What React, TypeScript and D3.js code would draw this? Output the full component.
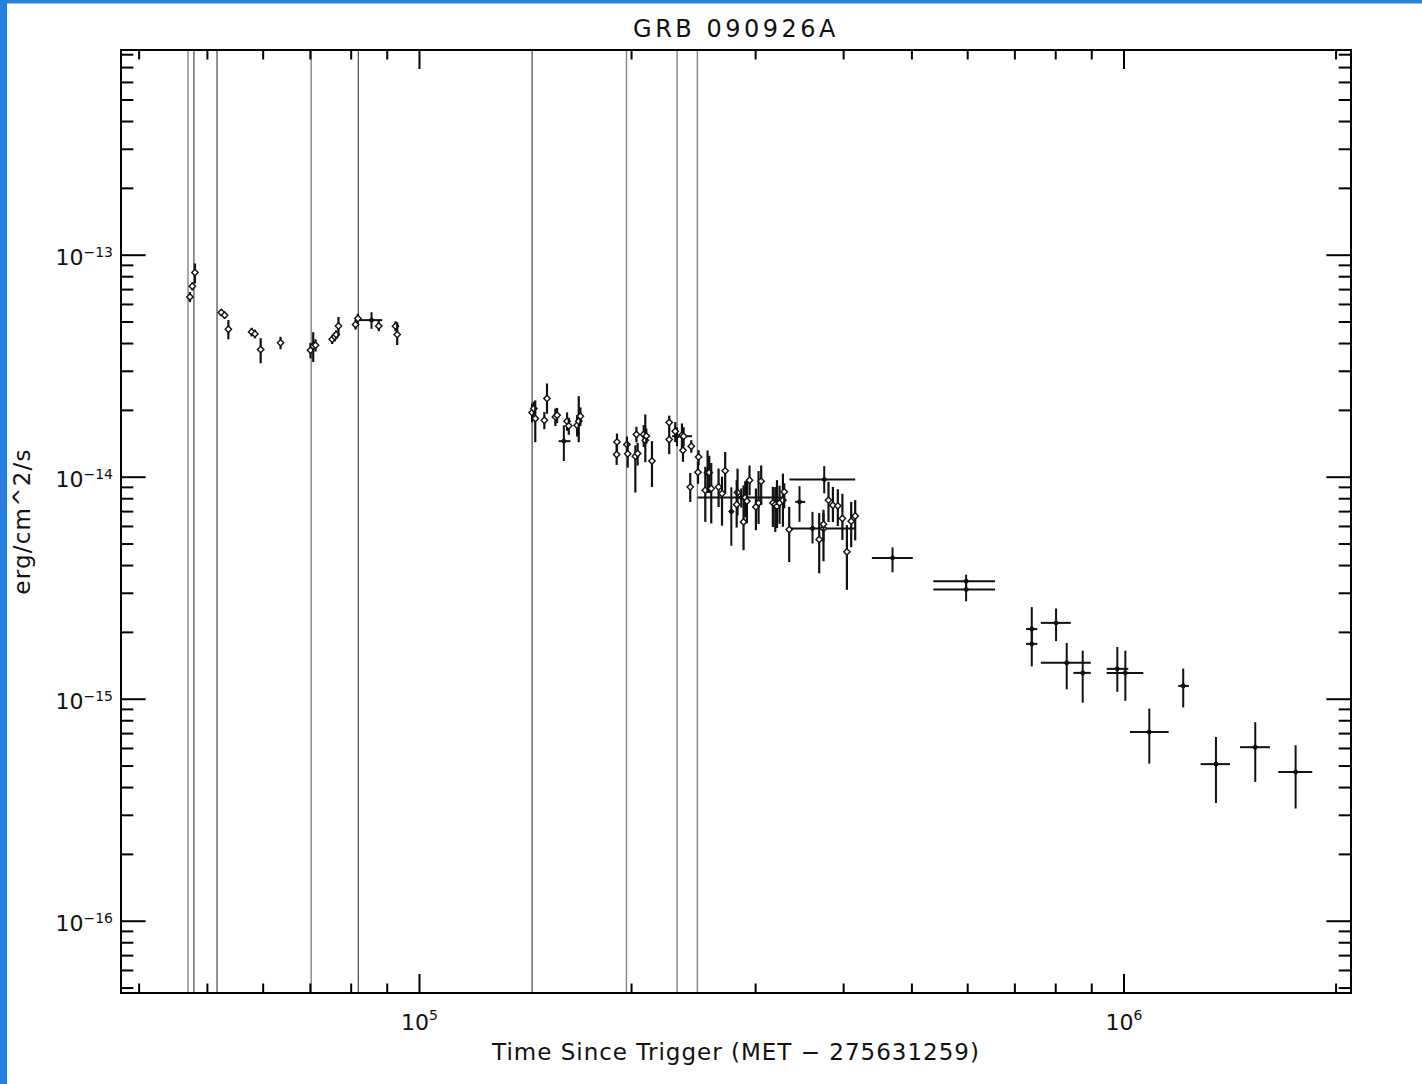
import React from 'react';
import * as d3 from 'd3';

const WIDTH = 1422;
const HEIGHT = 1084;

// Flux values below are in units of 1e-14 erg/cm^2/s
const FLUX_UNIT = 1e-14;

const titleText = 'GRB 090926A';
const xTitleText = 'Time Since Trigger (MET \u2212 275631259)';
const yTitleText = 'erg/cm^2/s';

const timeDomain = [37700, 2.1e6];
const fluxDomain = [4.75e-17, 8.4e-13];

const xTickExponents = [5, 6];
const yTickExponents = [-13, -14, -15, -16];

// Window / orbit boundary markers (seconds since trigger)
const darkLineTimes = [47850, 51600, 81870, 144500];
const grayLineTimes = [46930, 70200, 196700, 232100, 248000];

// Open-diamond points: [time, flux, fluxErrMinus, fluxErrPlus]
const openPoints: number[][] = [
  [47230, 6.49, 0.34, 0.34],
  [47600, 7.25, 0.31, 0.31],
  [48010, 8.36, 0.9, 0.82],
  [52330, 5.52, 0.2, 0.2],
  [52900, 5.37, 0.2, 0.2],
  [53550, 4.64, 0.46, 0.46],
  [57780, 4.51, 0.2, 0.2],
  [58410, 4.42, 0.2, 0.2],
  [59510, 3.76, 0.5, 0.47],
  [63500, 4.03, 0.26, 0.26],
  [70040, 3.73, 0.3, 0.3],
  [70660, 3.9, 0.6, 0.6],
  [71200, 3.93, 0.25, 0.25],
  [75180, 4.18, 0.2, 0.2],
  [75830, 4.29, 0.2, 0.2],
  [76160, 4.39, 0.2, 0.2],
  [76740, 4.8, 0.47, 0.47],
  [81150, 4.87, 0.25, 0.25],
  [81770, 5.19, 0.25, 0.25],
  [87540, 4.8, 0.25, 0.25],
  [92470, 4.79, 0.25, 0.25],
  [92980, 4.39, 0.45, 0.6],

  [144500, 1.956, 0.19, 0.19],
  [145300, 2.04, 0.15, 0.15],
  [146000, 1.838, 0.4, 0.38],
  [150400, 1.806, 0.16, 0.16],
  [151700, 2.262, 0.33, 0.38],
  [155900, 1.869, 0.17, 0.17],
  [156800, 1.902, 0.15, 0.15],
  [162000, 1.788, 0.17, 0.17],
  [162900, 1.703, 0.15, 0.15],
  [167400, 1.715, 0.19, 0.19],
  [168300, 1.788, 0.35, 0.53],
  [169200, 1.883, 0.18, 0.18],
  [190700, 1.442, 0.13, 0.13],
  [190500, 1.266, 0.13, 0.13],
  [197000, 1.404, 0.12, 0.12],
  [197500, 1.274, 0.17, 0.17],
  [202500, 1.243, 0.39, 0.15],
  [203200, 1.557, 0.12, 0.13],
  [204000, 1.279, 0.15, 0.15],
  [208100, 1.557, 0.19, 0.16],
  [209200, 1.468, 0.3, 0.45],
  [209900, 1.535, 0.12, 0.12],
  [213800, 1.184, 0.28, 0.27],
  [226200, 1.764, 0.13, 0.13],
  [226200, 1.479, 0.21, 0.18],
  [230700, 1.611, 0.17, 0.16],
  [235800, 1.546, 0.25, 0.2],
  [237100, 1.53, 0.15, 0.15],
  [236600, 1.323, 0.15, 0.12],
  [243100, 1.379, 0.09, 0.09],
  [249000, 1.234, 0.1, 0.09],
  [248500, 1.053, 0.12, 0.12],
  [242300, 0.904, 0.13, 0.14],

  [254500, 0.874, 0.245, 0.24],
  [256400, 1.049, 0.2, 0.27],
  [257800, 1.049, 0.2, 0.2],
  [259500, 0.889, 0.27, 0.27],
  [265800, 0.904, 0.17, 0.19],
  [268800, 0.845, 0.24, 0.16],
  [271600, 1.068, 0.22, 0.23],
  [282800, 0.853, 0.18, 0.24],
  [282000, 0.753, 0.16, 0.22],
  [288400, 0.629, 0.16, 0.29],
  [290000, 0.81, 0.15, 0.15],
  [291600, 0.78, 0.16, 0.19],
  [294100, 0.969, 0.14, 0.16],
  [300300, 0.735, 0.158, 0.154],
  [302900, 0.766, 0.15, 0.3],
  [305500, 0.959, 0.21, 0.17],
  [317400, 0.766, 0.17, 0.14],
  [319900, 0.753, 0.186, 0.15],
  [321700, 0.74, 0.15, 0.23],
  [324400, 0.766, 0.15, 0.15],
  [328000, 0.788, 0.19, 0.25],
  [329400, 0.859, 0.136, 0.08],
  [334800, 0.581, 0.166, 0.154],
  [369300, 0.524, 0.155, 0.165],
  [374500, 0.588, 0.17, 0.1],
  [374500, 0.614, 0.1, 0.1],
  [380700, 0.788, 0.16, 0.165],
  [386200, 0.748, 0.12, 0.156],
  [392500, 0.743, 0.14, 0.14],
  [398400, 0.652, 0.13, 0.19],
  [404300, 0.461, 0.15, 0.147],
  [410000, 0.634, 0.15, 0.14],
  [415400, 0.669, 0.15, 0.12],
];

// Filled points: [time, timeErrMinus, timeErrPlus, flux, fluxErrMinus, fluxErrPlus]
const filledPoints: number[][] = [
  [85500, 3660, 3020, 5.1, 0.44, 0.44],
  [160300, 2700, 3500, 1.453, 0.27, 0.26],
  [232000, 3700, 11700, 1.53, 0.15, 0.15],
  [277100, 1500, 1500, 0.701, 0.21, 0.2],
  [286200, 38000, 44300, 0.81, 0.08, 0.08],
  [346300, 4800, 6500, 0.774, 0.145, 0.137],
  [361300, 26500, 55100, 0.588, 0.085, 0.11],
  [375400, 40300, 40000, 0.976, 0.13, 0.145],
  [469300, 30600, 32100, 0.433, 0.06, 0.05],
  [596900, 60600, 59200, 0.34, 0.03, 0.024],
  [596900, 60600, 59200, 0.312, 0.036, 0.03],
  [739800, 13700, 13600, 0.207, 0.03, 0.053],
  [739800, 13700, 13600, 0.1775, 0.037, 0.03],
  [800900, 38900, 39400, 0.2207, 0.038, 0.0355],
  [829300, 67300, 67800, 0.1458, 0.035, 0.0335],
  [873800, 26400, 23300, 0.1314, 0.035, 0.034],
  [978400, 33400, 35700, 0.137, 0.029, 0.035],
  [1004400, 59400, 60700, 0.1314, 0.033, 0.034],
  [1086200, 66400, 71000, 0.0712, 0.0199, 0.0196],
  [1213600, 19600, 22800, 0.1148, 0.023, 0.0226],
  [1350600, 65800, 63300, 0.051, 0.0169, 0.0166],
  [1535800, 74900, 75800, 0.0608, 0.0184, 0.018],
  [1752300, 96400, 97900, 0.047, 0.0148, 0.015],
];

const FONT = '"DejaVu Sans", "Liberation Sans", sans-serif';

const plot = { left: 121, right: 1351, top: 50, bottom: 993 };

function minorTicks(domain: number[]): number[] {
  const out: number[] = [];
  const lo = Math.floor(Math.log10(domain[0]));
  const hi = Math.ceil(Math.log10(domain[1]));
  for (let e = lo; e <= hi; e++) {
    for (let m = 2; m <= 9; m++) {
      const v = m * Math.pow(10, e);
      if (v >= domain[0] && v <= domain[1]) out.push(v);
    }
  }
  return out;
}

export default function App() {
  const x = d3.scaleLog().domain(timeDomain).range([plot.left, plot.right]);
  const y = d3.scaleLog().domain(fluxDomain).range([plot.bottom, plot.top]);

  const xMajorLen = 19;
  const xMinorLen = 9.5;
  const yMajorLen = 24.6;
  const yMinorLen = 12.3;

  const xMinor = minorTicks(timeDomain);
  const yMinor = minorTicks(fluxDomain);

  const diamond = d3.symbol().type(d3.symbolDiamond2).size(26)() as string;
  const smallDiamond = d3.symbol().type(d3.symbolDiamond2).size(20)() as string;

  const tickStroke = { stroke: '#000', strokeWidth: 2 };

  return (
    <svg
      width={WIDTH}
      height={HEIGHT}
      style={{ position: 'absolute', left: 0, top: 0, background: '#fff' }}
      fontFamily={FONT}
    >
      <rect x={0} y={0} width={WIDTH} height={HEIGHT} fill="#fff" />
      {/* window border */}
      <rect x={0} y={0} width={WIDTH} height={3.5} fill="#2b83de" />
      <rect x={0} y={0} width={7} height={HEIGHT} fill="#2680dc" />

      <text x={(plot.left + plot.right) / 2} y={37} textAnchor="middle" fontSize={24} letterSpacing={3.5} fill="#111">
        {titleText}
      </text>

      {/* boundary lines */}
      {grayLineTimes.map((t, i) => (
        <line key={'g' + i} x1={x(t)} x2={x(t)} y1={plot.top} y2={plot.bottom} stroke="#858585" strokeWidth={1.4} />
      ))}
      {darkLineTimes.map((t, i) => (
        <line key={'d' + i} x1={x(t)} x2={x(t)} y1={plot.top} y2={plot.bottom} stroke="#222" strokeWidth={1} />
      ))}

      {/* filled points */}
      <g stroke="#111" strokeWidth={2}>
        {filledPoints.map((p, i) => {
          const [t, tm, tp, f, fm, fp] = p;
          const cx = x(t);
          const cy = y(f * FLUX_UNIT);
          return (
            <g key={'f' + i}>
              <line x1={x(t - tm)} x2={x(t + tp)} y1={cy} y2={cy} />
              <line x1={cx} x2={cx} y1={y((f + fp) * FLUX_UNIT)} y2={y((f - fm) * FLUX_UNIT)} />
              <path d={smallDiamond} transform={`translate(${cx},${cy})`} fill="#111" strokeWidth={1} />
            </g>
          );
        })}
      </g>

      {/* open points */}
      <g>
        {openPoints.map((p, i) => {
          const [t, f, fm, fp] = p;
          const cx = x(t);
          const cy = y(f * FLUX_UNIT);
          return (
            <g key={'o' + i}>
              <line x1={cx} x2={cx} y1={y((f + fp) * FLUX_UNIT)} y2={y((f - fm) * FLUX_UNIT)} stroke="#111" strokeWidth={2.2} />
              <path d={diamond} transform={`translate(${cx},${cy})`} fill="#fff" stroke="#111" strokeWidth={1.4} />
            </g>
          );
        })}
      </g>

      {/* frame */}
      <rect
        x={plot.left}
        y={plot.top}
        width={plot.right - plot.left}
        height={plot.bottom - plot.top}
        fill="none"
        stroke="#000"
        strokeWidth={2}
      />

      {/* x ticks, bottom and top */}
      {xTickExponents.map((e) => {
        const px = x(Math.pow(10, e));
        return (
          <g key={'xm' + e} {...tickStroke}>
            <line x1={px} x2={px} y1={plot.bottom} y2={plot.bottom - xMajorLen} />
            <line x1={px} x2={px} y1={plot.top} y2={plot.top + xMajorLen} />
          </g>
        );
      })}
      {xMinor.map((v, i) => {
        const px = x(v);
        return (
          <g key={'xn' + i} {...tickStroke}>
            <line x1={px} x2={px} y1={plot.bottom} y2={plot.bottom - xMinorLen} />
            <line x1={px} x2={px} y1={plot.top} y2={plot.top + xMinorLen} />
          </g>
        );
      })}

      {/* y ticks, left and right */}
      {yTickExponents.map((e) => {
        const py = y(Math.pow(10, e));
        return (
          <g key={'ym' + e} {...tickStroke}>
            <line x1={plot.left} x2={plot.left + yMajorLen} y1={py} y2={py} />
            <line x1={plot.right} x2={plot.right - yMajorLen} y1={py} y2={py} />
          </g>
        );
      })}
      {yMinor.map((v, i) => {
        const py = y(v);
        return (
          <g key={'yn' + i} {...tickStroke}>
            <line x1={plot.left} x2={plot.left + yMinorLen} y1={py} y2={py} />
            <line x1={plot.right} x2={plot.right - yMinorLen} y1={py} y2={py} />
          </g>
        );
      })}

      {/* tick labels */}
      {xTickExponents.map((e) => (
        <text key={'xl' + e} x={x(Math.pow(10, e))} y={1030} textAnchor="middle" fontSize={22} fill="#111">
          10
          <tspan dy={-10} fontSize={14}>{String(e)}</tspan>
        </text>
      ))}
      {yTickExponents.map((e) => (
        <text key={'yl' + e} x={113} y={y(Math.pow(10, e)) + 10} textAnchor="end" fontSize={22} fill="#111">
          10
          <tspan dy={-8} fontSize={14}>{'\u2212' + String(Math.abs(e))}</tspan>
        </text>
      ))}

      {/* axis titles */}
      <text x={(plot.left + plot.right) / 2} y={1060} textAnchor="middle" fontSize={23} letterSpacing={1} fill="#111">
        {xTitleText}
      </text>
      <text
        transform={`translate(30, ${(plot.top + plot.bottom) / 2}) rotate(-90)`}
        textAnchor="middle"
        fontSize={23}
        letterSpacing={1.2}
        fill="#111"
      >
        {yTitleText}
      </text>
    </svg>
  );
}
